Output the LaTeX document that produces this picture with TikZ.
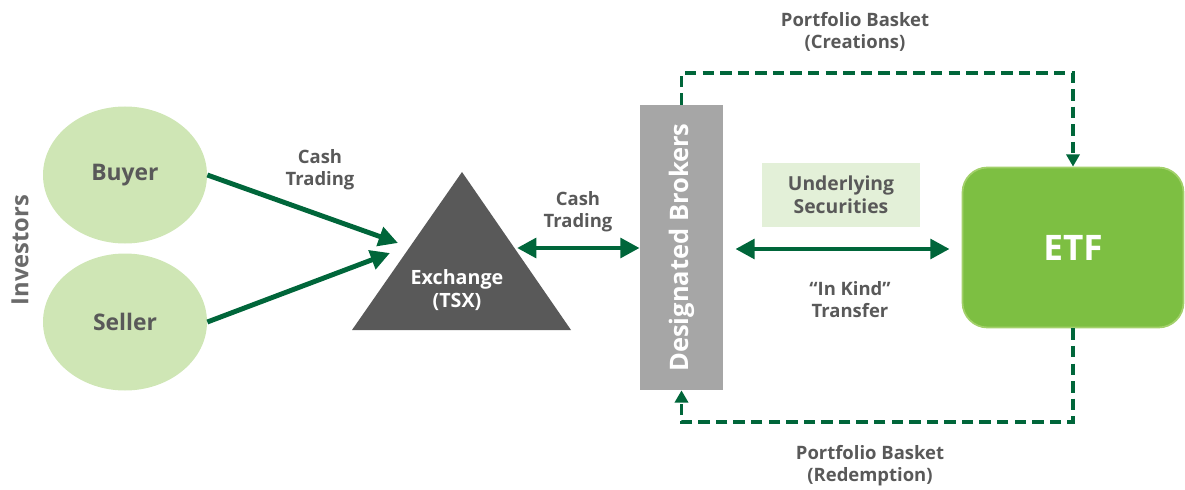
\documentclass[tikz,border=0pt]{standalone}
\usepackage{fontspec}
\setmainfont{Open Sans}
\usetikzlibrary{arrows.meta}
\definecolor{arrowgreen}{HTML}{00663A}
\definecolor{labelgrey}{HTML}{595959}
\definecolor{investgreen}{HTML}{CFE6B5}
\definecolor{etfgreen}{HTML}{7DBF42}
\definecolor{etfborder}{HTML}{A2D06A}
\definecolor{securitiesfill}{HTML}{E3F0D8}
\definecolor{brokergrey}{HTML}{A6A6A6}
\tikzset{
	investor/.style={ellipse, fill=investgreen, minimum width=3.28cm, minimum height=2.74cm, font=\fontsize{13}{15}\selectfont\bfseries, text=labelgrey},
	flowlabel/.style={align=center, font=\fontsize{10.5}{12.5}\selectfont\bfseries, text=labelgrey},
	cashflow/.style={draw=arrowgreen, line width=2.8pt, -{Triangle[length=11pt,width=11pt]}},
	cashflowboth/.style={cashflow, {Triangle[length=11pt,width=11pt]}-{Triangle[length=11pt,width=11pt]}},
	basketflow/.style={draw=arrowgreen, line width=2pt, dash pattern=on 6.5pt off 3.5pt, -{Triangle[length=7pt,width=7.5pt]}}
}
\usetikzlibrary{shapes.geometric}
\begin{document}
\begin{tikzpicture}
	\useasboundingbox (0,0) rectangle (23.7,9.78);
	% investors
	\node[rotate=90, font=\fontsize{13.5}{15}\selectfont\bfseries, text=labelgrey!90] (investors) at (0.4,4.78) {Investors};
	\node[investor] (buyer) at (2.5,6.28) {Buyer};
	\node[investor] (seller) at (2.5,3.34) {Seller};
	% exchange
	\fill[labelgrey] (7.04,3.18) -- (9.24,6.34) -- (11.42,3.18) -- cycle;
	\node[align=center, text=white, font=\fontsize{11.2}{13.5}\selectfont\bfseries] (exchange) at (9.14,3.98) {Exchange\\(TSX)};
	\coordinate (exchbuy) at (7.96,4.92);
	\coordinate (exchsell) at (7.8,4.72);
	\coordinate (exchright) at (10.34,4.82);
	% brokers, securities and etf
	\node[fill=brokergrey, minimum width=1.66cm, minimum height=5.7cm] (brokers) at (13.63,4.83) {};
	\node[rotate=90, text=white, font=\fontsize{14.5}{16}\selectfont\bfseries] at (brokers.center) {Designated Brokers};
	\node[fill=securitiesfill, minimum width=3.16cm, minimum height=1.28cm, flowlabel, font=\fontsize{11}{13}\selectfont\bfseries] (securities) at (16.82,5.88) {Underlying\\Securities};
	\node[fill=etfgreen, draw=etfborder, line width=1pt, rounded corners=0.5cm, minimum width=4.42cm, minimum height=3.2cm, text=white, font=\fontsize{20}{22}\selectfont\bfseries] (etf) at (21.46,4.83) {ETF};
	% flows
	\draw[cashflow] (buyer.east) -- (exchbuy);
	\draw[cashflow] (seller.east) -- (exchsell);
	\draw[cashflowboth] (exchright) -- (brokers.west |- exchright);
	\draw[cashflowboth, shorten <=0.24cm, shorten >=0.24cm] (brokers.east |- 0,4.8) -- (etf.west |- 0,4.8);
	\draw[basketflow] (brokers.north) -- (brokers.north |- 0,8.32) -| (etf.north);
	\draw[basketflow] (etf.south) -- (etf.south |- 0,1.34) -| (brokers.south);
	% labels
	\node[flowlabel] (cashlabel) at (6.4,6.38) {Cash\\Trading};
	\node[flowlabel] (cashlabeltwo) at (11.56,5.54) {Cash\\Trading};
	\node[flowlabel] (kindlabel) at (17.0,3.78) {``In Kind''\\Transfer};
	\node[flowlabel] (creations) at (17.1,9.14) {Portfolio Basket\\(Creations)};
	\node[flowlabel] (redemption) at (17.4,0.46) {Portfolio Basket\\(Redemption)};
\end{tikzpicture}
\end{document}
